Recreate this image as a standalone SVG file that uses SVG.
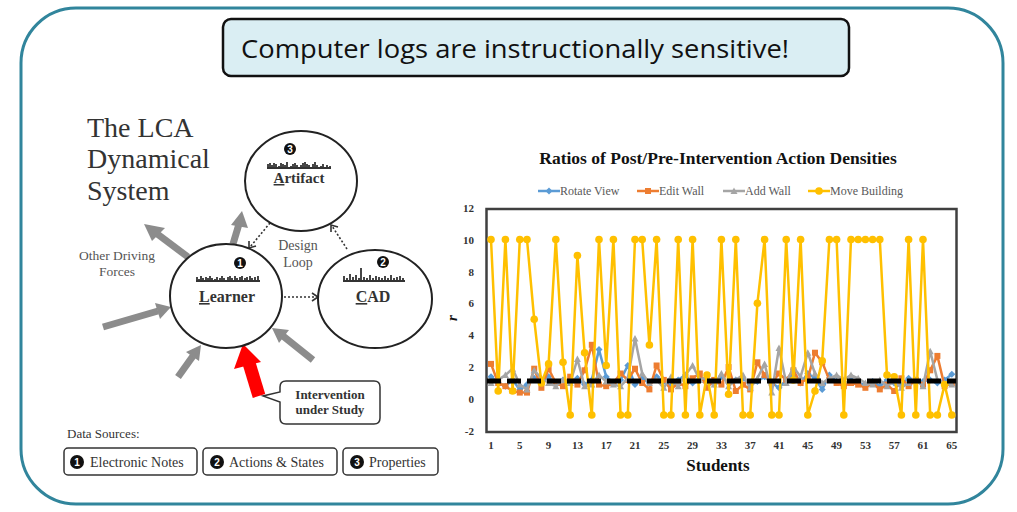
<svg xmlns="http://www.w3.org/2000/svg" width="1017" height="512" viewBox="0 0 1017 512">
<style>
.serif{font-family:"Liberation Serif","Times New Roman",serif}
.lbl{font-family:"Liberation Serif",serif;fill:#333}
.b{font-weight:bold}
.num{font-family:"Liberation Sans",sans-serif;font-weight:bold;font-size:10px;fill:#fff;text-anchor:middle}
.circ{fill:#fff;stroke:#222;stroke-width:2}
.spark{fill:none;stroke:#333;stroke-width:1.8}
.ga{stroke:#8c8c8c;stroke-width:7;fill:none}
.gah{fill:#8c8c8c}
.dot{stroke:#333;stroke-width:1.6;stroke-dasharray:2 2;fill:none}
.chev{stroke:#333;stroke-width:1.6;fill:none}
.tick{font-family:"Liberation Serif",serif;font-weight:bold;font-size:11px;fill:#333}
.leg{font-family:"Liberation Serif",serif;font-size:12px;fill:#595959}
.ser{fill:none;stroke-width:2.5;stroke-linejoin:round}
.src{fill:#fff;stroke:#333;stroke-width:1.5}
</style>
<defs>
<marker id="mY" markerUnits="userSpaceOnUse" markerWidth="10" markerHeight="10" refX="5" refY="5" viewBox="0 0 10 10"><circle cx="5" cy="5" r="3.8" fill="#FFC000"/></marker>
<marker id="mB" markerUnits="userSpaceOnUse" markerWidth="8" markerHeight="8" refX="4" refY="4" viewBox="0 0 8 8"><path d="M4,0.5 7.5,4 4,7.5 0.5,4Z" fill="#5B9BD5"/></marker>
<marker id="mO" markerUnits="userSpaceOnUse" markerWidth="8" markerHeight="8" refX="4" refY="4" viewBox="0 0 8 8"><rect x="1" y="1" width="6" height="6" fill="#ED7D31"/></marker>
<marker id="mG" markerUnits="userSpaceOnUse" markerWidth="8" markerHeight="8" refX="4" refY="4" viewBox="0 0 8 8"><path d="M4,0.5 7.5,7 0.5,7Z" fill="#A5A5A5"/></marker>
</defs>
<rect width="1017" height="512" fill="#fff"/>
<rect x="21" y="8" width="982" height="496" rx="55" fill="#fff" stroke="#31859C" stroke-width="3"/>

<g id="title">
<rect x="223" y="19" width="626" height="57" rx="8" fill="#DAEEF3" stroke="#111" stroke-width="2.5"/>
<text x="241" y="58" font-family="Open Sans,sans-serif" font-size="26" fill="#111" textLength="548" lengthAdjust="spacingAndGlyphs">Computer logs are instructionally sensitive!</text>
</g>

<g id="lca-title" class="lbl" font-size="28">
<text x="87" y="137">The LCA</text>
<text x="87" y="168">Dynamical</text>
<text x="87" y="200">System</text>
</g>

<g id="connectors">
<line class="ga" x1="188" y1="257" x2="156" y2="233"/>
<path class="gah" d="M144,224 L165,228 L152,241Z"/>
<line class="ga" x1="233" y1="244" x2="239" y2="224"/>
<path class="gah" d="M242,211 L248,228 L231,225Z"/>
<line class="ga" x1="103" y1="327" x2="158" y2="311"/>
<path class="gah" d="M171,307 L155,303 L160,319Z"/>
<line class="ga" x1="178" y1="377" x2="193" y2="356"/>
<path class="gah" d="M201,345 L186,352 L199,361Z"/>
<line class="ga" x1="313" y1="360" x2="283" y2="336"/>
<path class="gah" d="M272,328 L289,330 L279,343Z"/>
<line stroke="#ff0000" stroke-width="13" x1="259" y1="396" x2="249" y2="363"/>
<path fill="#ff0000" d="M243,344 L261,362 L234,369Z"/>
<line class="dot" x1="270" y1="223" x2="250" y2="247"/>
<path class="chev" d="M249,241 L249,248 L256,246"/>
<line class="dot" x1="347" y1="249" x2="332" y2="226"/>
<path class="chev" d="M331,232 L331,225 L338,227"/>
<line class="dot" x1="284" y1="297" x2="317" y2="297"/>
<path class="chev" d="M312,293 L318,297 L312,301"/>
</g>

<g id="artifact">
<ellipse class="circ" cx="301" cy="181" rx="56" ry="50"/>
<circle cx="290" cy="149" r="6" fill="#111"/><text class="num" x="290" y="152.5">3</text>
<path class="spark" d="M267,168H331 M268,168v-4 M270,168v-5 M272,168v-3 M274,168v-5 M276,168v-4 M279,168v-2 M281,168v-5 M283,168v-4 M285,168v-3 M287,168v-6 M291,168v-2 M293,168v-4 M295,168v-5 M297,168v-3 M301,168v-3 M303,168v-5 M305,168v-6 M307,168v-4 M309,168v-3 M313,168v-4 M315,168v-6 M317,168v-3 M321,168v-2 M323,168v-4 M327,168v-3 M330,168v-2"/>
<text class="lbl b" x="299" y="183" font-size="15" text-anchor="middle"><tspan text-decoration="underline">A</tspan>rtifact</text>
</g>

<g id="learner">
<ellipse class="circ" cx="226" cy="296" rx="56" ry="52"/>
<circle cx="240" cy="263" r="6" fill="#111"/><text class="num" x="240" y="266.5">1</text>
<path class="spark" d="M196,281H260 M197,281v-4 M199,281v-2 M201,281v-5 M203,281v-3 M206,281v-4 M208,281v-3 M210,281v-5 M212,281v-3 M215,281v-2 M217,281v-4 M220,281v-3 M222,281v-5 M224,281v-3 M228,281v-4 M230,281v-5 M232,281v-3 M235,281v-5 M237,281v-3 M240,281v-4 M242,281v-5 M245,281v-3 M247,281v-4 M250,281v-5 M252,281v-3 M255,281v-4 M258,281v-5"/>
<text class="lbl b" x="227" y="302" font-size="16" text-anchor="middle"><tspan text-decoration="underline">L</tspan>earner</text>
</g>

<g id="cad">
<ellipse class="circ" cx="375" cy="299" rx="57" ry="49"/>
<circle cx="383" cy="262" r="6" fill="#111"/><text class="num" x="383" y="265.5">2</text>
<path class="spark" d="M343,281H405 M344,281v-5 M347,281v-3 M350,281v-7 M353,281v-4 M356,281v-6 M359,281v-3 M361,281v-13 M364,281v-4 M367,281v-3 M370,281v-6 M373,281v-3 M376,281v-5 M379,281v-4 M382,281v-3 M385,281v-5 M388,281v-3 M391,281v-6 M394,281v-3 M397,281v-4 M400,281v-5 M403,281v-3"/>
<text class="lbl b" x="373" y="302" font-size="16" text-anchor="middle"><tspan text-decoration="underline">C</tspan>AD</text>
</g>

<g id="design-loop" class="lbl" font-size="14" text-anchor="middle">
<text x="298" y="250" style="fill:#555">Design</text>
<text x="298" y="267" style="fill:#555">Loop</text>
</g>

<g id="other-forces" class="lbl" font-size="13.5" text-anchor="middle">
<text x="117" y="260" style="fill:#555">Other Driving</text>
<text x="117" y="276" style="fill:#555">Forces</text>
</g>

<g id="intervention">
<path d="M286,381 H374 Q380,381 380,387 V418 Q380,424 374,424 H286 Q280,424 280,418 V402 L263,396 L280,392 V387 Q280,381 286,381Z" fill="#fff" stroke="#333" stroke-width="1.5"/>
<text class="lbl b" x="330" y="399" font-size="13" text-anchor="middle">Intervention</text>
<text class="lbl b" x="330" y="414" font-size="13" text-anchor="middle">under Study</text>
</g>

<g id="data-sources">
<text class="lbl" x="67" y="438" font-size="13">Data Sources:</text>
<rect class="src" x="64" y="448" width="133" height="27" rx="4"/>
<circle cx="77" cy="462" r="7" fill="#111"/><text class="num" x="77" y="466">1</text>
<text class="lbl" x="90" y="467" font-size="14">Electronic Notes</text>
<rect class="src" x="203" y="448" width="134" height="27" rx="4"/>
<circle cx="217" cy="462" r="7" fill="#111"/><text class="num" x="217" y="466">2</text>
<text class="lbl" x="229" y="467" font-size="14">Actions &amp; States</text>
<rect class="src" x="343" y="448" width="95" height="27" rx="4"/>
<circle cx="357" cy="462" r="7" fill="#111"/><text class="num" x="357" y="466">3</text>
<text class="lbl" x="369" y="467" font-size="14">Properties</text>
</g>

<g id="chart">
<text class="serif b" x="718" y="164" font-size="17.5" fill="#111" text-anchor="middle">Ratios of Post/Pre-Intervention Action Densities</text>
<g id="legend">
<path d="M538,191 H549 H560" stroke="#5B9BD5" stroke-width="2.5" marker-mid="url(#mB)"/>
<text class="leg" x="560" y="195">Rotate View</text>
<path d="M637,191 H648 H659" stroke="#ED7D31" stroke-width="2.5" marker-mid="url(#mO)"/>
<text class="leg" x="659" y="195">Edit Wall</text>
<path d="M723,191 H734 H745" stroke="#A5A5A5" stroke-width="2.5" marker-mid="url(#mG)"/>
<text class="leg" x="745" y="195">Add Wall</text>
<path d="M808,191 H819 H830" stroke="#FFC000" stroke-width="2.5" marker-mid="url(#mY)"/>
<text class="leg" x="830" y="195">Move Building</text>
</g>
<rect x="486.5" y="209" width="470" height="223" fill="#fff" stroke="#404040" stroke-width="2.5"/>
<g class="tick" text-anchor="end">
<text x="474" y="212">12</text><text x="474" y="244">10</text><text x="474" y="276">8</text><text x="474" y="307">6</text>
<text x="474" y="339">4</text><text x="474" y="371">2</text><text x="474" y="403">0</text><text x="474" y="435">-2</text>
</g>
<g class="tick" text-anchor="middle">
<text x="491" y="449">1</text><text x="519.8" y="449">5</text><text x="548.6" y="449">9</text><text x="577.4" y="449">13</text>
<text x="606.2" y="449">17</text><text x="635" y="449">21</text><text x="663.8" y="449">25</text><text x="692.6" y="449">29</text>
<text x="721.4" y="449">33</text><text x="750.2" y="449">37</text><text x="779" y="449">41</text><text x="807.8" y="449">45</text>
<text x="836.6" y="449">49</text><text x="865.4" y="449">53</text><text x="894.2" y="449">57</text><text x="923" y="449">61</text>
<text x="951.8" y="449">65</text>
</g>
<text class="serif b" x="718" y="471" font-size="17" fill="#111" text-anchor="middle">Students</text>
<text class="serif b" x="0" y="0" font-size="15" font-style="italic" fill="#111" text-anchor="middle" transform="translate(457,318) rotate(-90)">r</text>
<polyline class="ser" stroke="#5B9BD5" marker-start="url(#mB)" marker-mid="url(#mB)" marker-end="url(#mB)" points="491,376.7 498.2,383 505.4,386.2 512.6,379.9 519.8,389.4 527,384.6 534.2,378.3 541.4,383 548.6,376.7 555.8,384.6 563,379.9 570.2,383 577.4,378.3 584.6,384.6 591.8,379.9 599,349.6 606.2,376.7 613.4,383 620.6,379.9 627.8,365.5 635,384.6 642.2,378.3 649.4,383 656.6,376.7 663.8,381.5 671,386.2 678.2,379.9 685.4,375.1 692.6,383 699.8,378.3 707,381.5 714.2,384.6 721.4,376.7 728.6,383 735.8,379.9 743,378.3 750.2,384.6 757.4,381.5 764.6,376.7 771.8,383 779,387.8 786.2,379.9 793.4,375.1 800.6,383 807.8,373.5 815,378.3 822.2,389.4 829.4,375.1 836.6,381.5 843.8,384.6 851,379.9 858.2,383 865.4,384.6 872.6,381.5 879.8,386.2 887,379.9 894.2,383 901.4,384.6 908.6,378.3 915.8,383 923,381.5 930.2,379.9 937.4,383 944.6,379.9 951.8,374.3"/>
<polyline class="ser" stroke="#ED7D31" marker-start="url(#mO)" marker-mid="url(#mO)" marker-end="url(#mO)" points="491,363.9 498.2,383 505.4,386.2 512.6,391 519.8,392.6 527,392.6 534.2,368.7 541.4,387.8 548.6,368.7 555.8,383 563,386.2 570.2,376.7 577.4,384.6 584.6,370.3 591.8,344.8 599,384.6 606.2,386.2 613.4,383 620.6,373.5 627.8,379.9 635,368.7 642.2,383 649.4,389.4 656.6,365.5 663.8,379.9 671,389.4 678.2,383 685.4,386.2 692.6,378.3 699.8,373.5 707,387.8 714.2,379.9 721.4,384.6 728.6,367.1 735.8,391 743,384.6 750.2,389.4 757.4,362.3 764.6,375.1 771.8,383 779,373.5 786.2,379.9 793.4,370.3 800.6,383 807.8,378.3 815,352.7 822.2,362.3 829.4,379.9 836.6,383 843.8,386.2 851,383 858.2,384.6 865.4,387.8 872.6,383 879.8,389.4 887,384.6 894.2,391 901.4,378.3 908.6,386.2 915.8,379.9 923,384.6 930.2,370.3 937.4,355.9 944.6,386.2 951.8,383"/>
<polyline class="ser" stroke="#A5A5A5" marker-start="url(#mG)" marker-mid="url(#mG)" marker-end="url(#mG)" points="491,383 498.2,379.9 505.4,375.1 512.6,368.7 519.8,384.6 527,389.4 534.2,370.3 541.4,378.3 548.6,383 555.8,386.2 563,379.9 570.2,383 577.4,359.1 584.6,386.2 591.8,384.6 599,375.1 606.2,381.5 613.4,384.6 620.6,386.2 627.8,378.3 635,338.4 642.2,373.5 649.4,383 656.6,379.9 663.8,387.8 671,376.7 678.2,386.2 685.4,375.1 692.6,365.5 699.8,379.9 707,376.7 714.2,384.6 721.4,373.5 728.6,386.2 735.8,379.9 743,375.1 750.2,387.8 757.4,378.3 764.6,363.9 771.8,392.6 779,348 786.2,383 793.4,367.1 800.6,376.7 807.8,352.7 815,373.5 822.2,383 829.4,378.3 836.6,375.1 843.8,379.9 851,375.1 858.2,378.3 865.4,383 872.6,384.6 879.8,379.9 887,386.2 894.2,381.5 901.4,387.8 908.6,383 915.8,379.9 923,386.2 930.2,351.2 937.4,379.9 944.6,383 951.8,384.6"/>
<polyline class="ser" stroke="#FFC000" stroke-width="3" marker-start="url(#mY)" marker-mid="url(#mY)" marker-end="url(#mY)" points="491,239.5 498.2,391 505.4,239.5 512.6,391 519.8,239.5 527,239.5 534.2,319.3 541.4,383 548.6,363.9 555.8,239.5 563,362.3 570.2,415 577.4,255.5 584.6,352.7 591.8,415 599,239.5 606.2,365.5 613.4,239.5 620.6,415 627.8,415 635,239.5 642.2,239.5 649.4,345 656.6,239.5 663.8,415 671,415 678.2,239.5 685.4,415 692.6,239.5 699.8,415 707,375 714.2,415 721.4,239.5 728.6,394.2 735.8,239.5 743,415 750.2,415 757.4,303.3 764.6,239.5 771.8,415 779,415 786.2,239.5 793.4,380 800.6,239.5 807.8,415 815,391 822.2,360.7 829.4,239.5 836.6,239.5 843.8,415 851,239.5 858.2,239.5 865.4,239.5 872.6,239.5 879.8,239.5 887,375 894.2,376.7 901.4,415 908.6,239.5 915.8,415 923,239.5 930.2,415 937.4,415 944.6,384.6 951.8,415"/>
<line x1="487" y1="381" x2="956" y2="381" stroke="#000" stroke-width="5" stroke-dasharray="14 6"/>
</g>
</svg>
